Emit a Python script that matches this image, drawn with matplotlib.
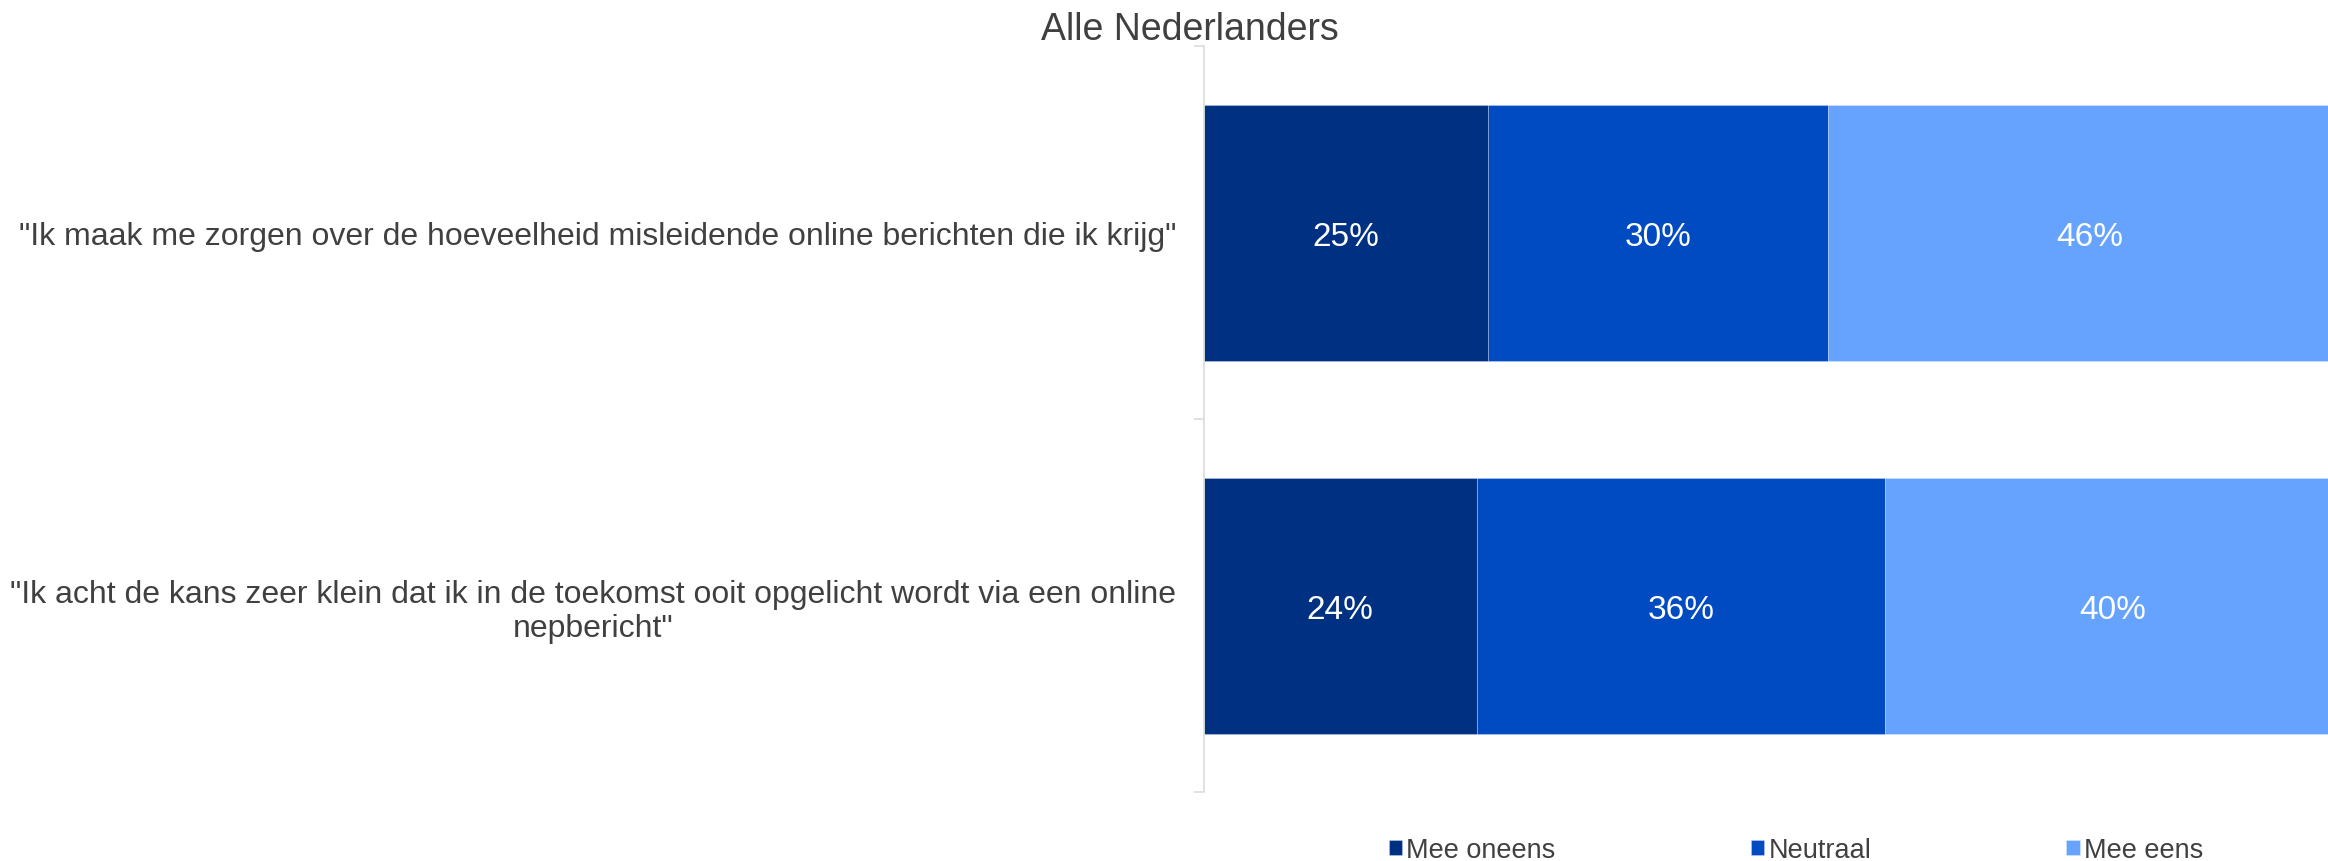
import numpy as np
import matplotlib.pyplot as plt

plt.rcParams['font.family'] = ['Liberation Sans', 'DejaVu Sans']

# survey statements (bottom to top) and answer shares in percent
statements = [
    '"Ik acht de kans zeer klein dat ik in de toekomst ooit opgelicht wordt via een online\nnepbericht"',
    '"Ik maak me zorgen over de hoeveelheid misleidende online berichten die ik krijg"',
]
answers = ['Mee oneens', 'Neutraal', 'Mee eens']
mee_oneens = [24, 25]
neutraal = [36, 30]
mee_eens = [40, 46]
colors = ['#003082', '#004AC2', '#66A3FF']

text_color = '#404040'

fig = plt.figure(figsize=(23.28, 8.62), dpi=100)
ax = fig.add_axes([0.5172, 0.080, 0.4828, 0.8649])

y = np.arange(len(statements))
left = np.zeros(len(statements))
for name, vals, col in zip(answers, [mee_oneens, neutraal, mee_eens], colors):
    vals = np.array(vals)
    bars = ax.barh(y, vals, left=left, height=0.686, color=col, label=name,
                   edgecolor=(1, 1, 1, 0.3), linewidth=0.6)
    for b, v in zip(bars, vals):
        ax.annotate(f'{v}%', (b.get_x() + b.get_width() / 2, b.get_y() + b.get_height() / 2),
                    xytext=(0, -2.5), textcoords='offset points',
                    ha='center', va='center', color='white', fontsize=24)
    left += vals

ax.set_xlim(0, 99)
ax.set_ylim(-0.5, 1.5)
ax.set_xticks([])
ax.set_yticks(y)
ax.set_yticklabels(statements, multialignment='center', fontsize=23, color=text_color,
                   linespacing=1.15)
ax.set_yticks([-0.5, 0.5, 1.5], minor=True)
ax.tick_params(axis='y', which='major', length=0, pad=20)
ax.tick_params(axis='y', which='minor', length=7, width=1.1, color='#d9d9d9')

for s in ['top', 'right', 'bottom']:
    ax.spines[s].set_visible(False)
ax.spines['left'].set_color('#d9d9d9')
ax.spines['left'].set_linewidth(1.1)

fig.text(0.511, 0.965, 'Alle Nederlanders', ha='center', va='center',
         fontsize=27, color=text_color)

fig.legend(loc='center left', bbox_to_anchor=(0.5966, 0.0128), ncol=3, frameon=False,
           fontsize=19.5, labelcolor=text_color, handlelength=0.5, handleheight=0.5,
           handletextpad=0.15, columnspacing=7.2, borderpad=0, borderaxespad=0)

fig.savefig('out.png', dpi=100)
